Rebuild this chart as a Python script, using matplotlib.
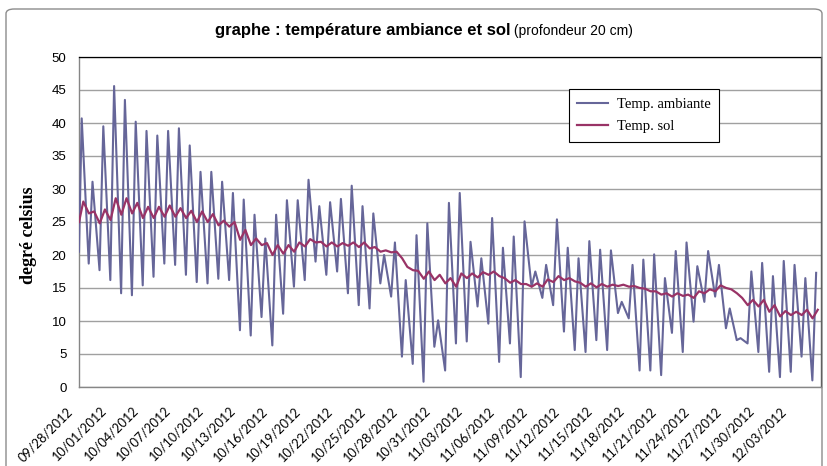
import numpy as np
import pandas as pd
import matplotlib
matplotlib.use("Agg")
import matplotlib.pyplot as plt
import matplotlib.dates as mdates
from matplotlib.patches import FancyBboxPatch
from matplotlib.transforms import ScaledTranslation

# daily readings, day 0 = 09/28/2012
start_date = "2012-09-28"
amb_first = 20.5
amb_max = [40.7, 31.1, 39.5, 45.6, 43.5, 40.2, 38.8, 38.1, 38.8, 39.2,
           36.6, 32.6, 32.6, 31.1, 29.4, 28.4, 26.1, 22.5, 26.1, 28.3,
           28.3, 31.4, 27.4, 28.0, 28.5, 30.5, 27.4, 26.3, 20.0, 21.9,
           16.2, 23.0, 24.8, 10.1, 27.9, 29.4, 22.0, 19.5, 25.6, 21.1,
           22.8, 25.1, 17.5, 18.5, 25.4, 21.1, 19.5, 22.1, 20.8, 20.7,
           12.9, 18.5, 19.3, 20.1, 16.5, 20.6, 21.9, 18.3, 20.6, 18.5,
           11.9, 7.4, 17.5, 18.8, 16.8, 19.1, 18.5, 16.5, 17.3]
amb_min = [18.7, 17.7, 16.2, 14.2, 13.9, 15.4, 16.7, 18.7, 18.5, 17.0,
           15.9, 15.7, 16.4, 16.2, 8.6, 7.8, 10.6, 6.3, 11.1, 15.2,
           16.2, 19.0, 17.0, 17.5, 14.2, 12.4, 11.9, 15.7, 13.7, 4.6,
           3.5, 0.8, 6.1, 2.5, 6.6, 6.9, 12.2, 9.6, 3.8, 6.6,
           1.5, 15.2, 13.5, 12.4, 8.4, 5.6, 5.3, 7.1, 5.6, 11.2,
           10.4, 2.5, 2.5, 1.8, 8.2, 5.3, 9.9, 12.9, 13.7, 8.9,
           7.1, 6.6, 5.3, 2.3, 1.5, 2.3, 4.6, 1.0]

sol_first = 25.0
sol_max = [28.1, 26.6, 26.9, 28.6, 28.6, 27.9, 27.3, 27.3, 27.5, 27.1,
           26.7, 26.6, 26.2, 25.2, 25.0, 23.8, 22.5, 21.8, 21.5, 21.5,
           21.9, 22.4, 22.0, 21.9, 21.8, 21.9, 21.9, 21.2, 20.7, 20.5,
           18.2, 17.6, 17.5, 17.0, 16.5, 17.2, 17.2, 17.4, 17.5, 16.5,
           16.2, 15.6, 15.7, 16.3, 16.8, 16.5, 15.8, 15.7, 15.6, 15.5,
           15.5, 15.3, 14.9, 14.5, 14.2, 14.2, 14.0, 14.5, 14.8, 15.4,
           14.8, 13.5, 13.2, 13.2, 12.4, 11.5, 11.4, 11.7, 11.7]
sol_min = [26.3, 24.8, 25.3, 26.1, 26.3, 25.6, 25.6, 25.8, 25.8, 25.6,
           25.0, 25.0, 24.5, 24.3, 22.3, 21.5, 21.5, 20.0, 20.2, 20.5,
           21.3, 21.9, 21.3, 21.3, 21.4, 21.2, 21.0, 20.5, 20.4, 19.5,
           17.7, 16.4, 16.2, 15.7, 15.2, 16.5, 16.6, 17.0, 16.8, 15.8,
           15.6, 15.2, 15.2, 15.9, 16.2, 16.0, 15.2, 15.1, 15.2, 15.3,
           15.2, 15.0, 14.5, 14.0, 13.7, 13.8, 13.5, 14.2, 14.5, 15.0,
           14.2, 12.4, 12.2, 11.4, 10.7, 10.9, 10.9, 10.4]


def daily_series(first, highs, lows, t_high, t_low):
    days = np.arange(len(highs))
    t = np.concatenate([[0.0], days + t_high, days[:len(lows)] + t_low])
    v = np.concatenate([[first], highs, lows])
    order = np.argsort(t)
    times = pd.Timestamp(start_date) + pd.to_timedelta(t[order], unit="D")
    return times, v[order]


t_amb, v_amb = daily_series(amb_first, amb_max, amb_min, 0.25, 0.9)
t_sol, v_sol = daily_series(sol_first, sol_max, sol_min, 0.40, 0.92)

fig = plt.figure(figsize=(8.27, 4.66), dpi=100)
W, H = 827, 466
ax = fig.add_axes([79 / W, 1 - 387 / H, 742 / W, 330 / H])

# chart border
fig.patches.append(FancyBboxPatch((6 / W, -0.05), 816 / W, 1.05 - 9 / H,
                                  boxstyle="round,pad=0,rounding_size=0.01",
                                  transform=fig.transFigure, fill=False,
                                  edgecolor="#8c8c8c", linewidth=1.0))

ax.plot(t_amb, v_amb, color="#666699", lw=1.5, label="Temp. ambiante", zorder=3)
ax.plot(t_sol, v_sol, color="#993366", lw=1.6, label="Temp. sol", zorder=4)

x0 = pd.Timestamp(start_date)
ax.set_xlim(x0, x0 + pd.Timedelta(days=68.7))
ax.set_ylim(0, 50)
ax.set_yticks(np.arange(0, 51, 5))
ax.yaxis.grid(True, color="#a0a0a0", lw=1.0)
ax.set_axisbelow(True)

ticks = pd.date_range(start_date, "2012-12-03", freq="3D")
ax.set_xticks(ticks)
ax.xaxis.set_major_formatter(mdates.DateFormatter("%m/%d/%Y"))
ax.tick_params(axis="x", length=0, pad=16, labelsize=9.2)
ax.tick_params(axis="y", length=0, pad=9, labelsize=9.5)
for lab in ax.get_xticklabels():
    lab.set_rotation(45)
    lab.set_ha("right")
    lab.set_va("center")
    lab.set_rotation_mode("anchor")
    lab.set_fontfamily("Lato")
    lab.set_transform(lab.get_transform() + ScaledTranslation(-0.08, 0, fig.dpi_scale_trans))
for lab in ax.get_yticklabels():
    lab.set_fontfamily("Liberation Sans")

for s in ["top", "right"]:
    ax.spines[s].set_color("black")
    ax.spines[s].set_linewidth(0.9)
for s in ["left", "bottom"]:
    ax.spines[s].set_color("#868686")
    ax.spines[s].set_linewidth(1.0)

ax.set_ylabel("degré celsius", fontsize=13, fontweight="bold", family="Liberation Serif")
ax.yaxis.set_label_coords(-0.057, 0.46)

leg = ax.legend(loc="upper left", bbox_to_anchor=(0.660, 0.903), borderaxespad=0,
                fancybox=False, edgecolor="black", framealpha=1,
                prop={"family": "Liberation Serif", "size": 10.5},
                handlelength=2.1, handletextpad=0.6, labelspacing=0.6, borderpad=0.6)
leg.get_frame().set_linewidth(0.8)

# title: bold part + normal part, centred together
renderer = fig.canvas.get_renderer()
t1 = fig.text(0, 1 - 31 / H, "graphe : température ambiance et sol", fontsize=12,
              fontweight="bold", family="Liberation Sans", va="center", ha="left")
t2 = fig.text(0, 1 - 31 / H, " (profondeur 20 cm)", fontsize=10,
              family="Liberation Sans", va="center", ha="left")
w1 = t1.get_window_extent(renderer).width
w2 = t2.get_window_extent(renderer).width
left = 424 - (w1 + w2) / 2
t1.set_x(left / W)
t2.set_x((left + w1) / W)

fig.savefig("out.png", dpi=100)
